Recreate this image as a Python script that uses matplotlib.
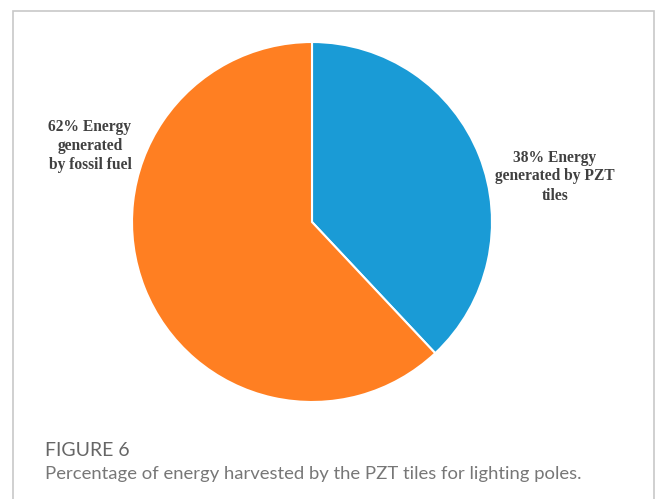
import matplotlib.pyplot as plt
from matplotlib.patches import Rectangle

# data
labels = ['38% Energy\ngenerated by PZT\ntiles', '62% Energy\ngenerated\nby fossil fuel']
shares = [38, 62]
colors = ['#1A9BD6', '#FF7F22']

W, H = 656, 499
fig = plt.figure(figsize=(W / 100, H / 100), dpi=100)

def fx(px):
    return px / W

def fy(py):
    return 1 - py / H

# outer frame
fig.patches.append(Rectangle((fx(12.5), fy(520)), fx(654) - fx(12.5), fy(11) - fy(520),
                             transform=fig.transFigure, fill=False,
                             edgecolor='#c8c8c8', linewidth=1.2))

cx, cy, r = 312, 222, 180
ax = fig.add_axes([fx(cx - r), fy(cy + r), 2 * r / W, 2 * r / H])
ax.pie(shares, colors=colors, startangle=90, counterclock=False,
       wedgeprops=dict(edgecolor='white', linewidth=1.5))
ax.set_xlim(-1, 1)
ax.set_ylim(-1, 1)
ax.set_aspect('auto')
ax.axis('off')

lab_kw = dict(family='Liberation Serif', fontweight='bold', fontsize=11.2,
              color='#404040', ha='center', va='center', linespacing=1.25)
fig.text(fx(555), fy(176.5), labels[0], **lab_kw)
fig.text(fx(90), fy(146), labels[1], **lab_kw)

fig.text(fx(45), fy(451), 'FIGURE 6', family='Lato', fontsize=14,
         color='#666666', ha='left', va='center')
fig.text(fx(45), fy(474), 'Percentage of energy harvested by the PZT tiles for lighting poles.',
         family='Lato', fontsize=13.3, color='#777777', ha='left', va='center')

fig.savefig('out.png', dpi=100)
